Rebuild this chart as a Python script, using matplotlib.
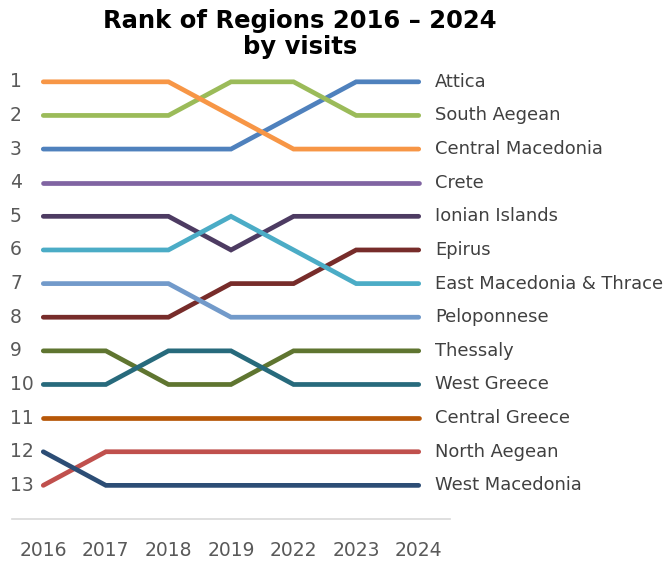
import matplotlib
matplotlib.use("Agg")
import matplotlib.pyplot as plt
import matplotlib.transforms as mtransforms

# Data: rank per region per year
years = ["2016", "2017", "2018", "2019", "2022", "2023", "2024"]
regions = ["Attica", "South Aegean", "Central Macedonia", "Crete", "Ionian Islands",
           "Epirus", "East Macedonia & Thrace", "Peloponnese", "Thessaly",
           "West Greece", "Central Greece", "North Aegean", "West Macedonia"]
attica = [3, 3, 3, 3, 2, 1, 1]
south_aegean = [2, 2, 2, 1, 1, 2, 2]
central_macedonia = [1, 1, 1, 2, 3, 3, 3]
crete = [4, 4, 4, 4, 4, 4, 4]
ionian_islands = [5, 5, 5, 6, 5, 5, 5]
epirus = [8, 8, 8, 7, 7, 6, 6]
east_macedonia_thrace = [6, 6, 6, 5, 6, 7, 7]
peloponnese = [7, 7, 7, 8, 8, 8, 8]
thessaly = [9, 9, 10, 10, 9, 9, 9]
west_greece = [10, 10, 9, 9, 10, 10, 10]
central_greece = [11, 11, 11, 11, 11, 11, 11]
north_aegean = [13, 12, 12, 12, 12, 12, 12]
west_macedonia = [12, 13, 13, 13, 13, 13, 13]
rank_labels = list(range(1, 14))

series = [attica, south_aegean, central_macedonia, crete, ionian_islands, epirus,
          east_macedonia_thrace, peloponnese, thessaly, west_greece, central_greece,
          north_aegean, west_macedonia]
colors = ["#4F81BD", "#9BBB59", "#F79646", "#8064A2", "#4D3B62", "#772C2A",
          "#4BACC6", "#729ACA", "#5F7530", "#276A7C", "#B65708", "#C0504D", "#2C4D75"]

TXT = "#404040"

fig = plt.figure(figsize=(6.7, 5.62), dpi=100)
ax = fig.add_axes([12 / 670, 1 - 519 / 562, 438 / 670, 454 / 562])

x = list(range(len(years)))
for vals, c, name in zip(series, colors, regions):
    ax.plot(x, vals, color=c, lw=3.4, solid_capstyle="round", solid_joinstyle="miter")
    ax.text(len(years) - 1 + 0.26, vals[-1], name, ha="left", va="center",
            fontsize=12.9, color=TXT, clip_on=False)

ax.set_xlim(-0.5, len(years) - 0.5)
ax.set_ylim(14, 0.5)
ax.set_yticks([])
ax.set_xticks(x, years)
ax.tick_params(axis="x", length=0, pad=16, labelsize=13.5, labelcolor="#595959")
for s in ("top", "left", "right"):
    ax.spines[s].set_visible(False)
ax.spines["bottom"].set_color("#D9D9D9")
ax.spines["bottom"].set_linewidth(1.2)

# rank numbers on the left
trans = mtransforms.blended_transform_factory(fig.transFigure, ax.transData)
for r in rank_labels:
    ax.text(10 / 670, r, str(r), transform=trans, ha="left", va="center",
            fontsize=13.5, color="#595959", clip_on=False)

fig.text(300 / 670, 1 - 34 / 562, "Rank of Regions 2016 \u2013 2024\nby visits",
         ha="center", va="center", fontsize=17.5, fontweight="bold",
         color="black", linespacing=1.15)

fig.savefig("out.png", dpi=100)
